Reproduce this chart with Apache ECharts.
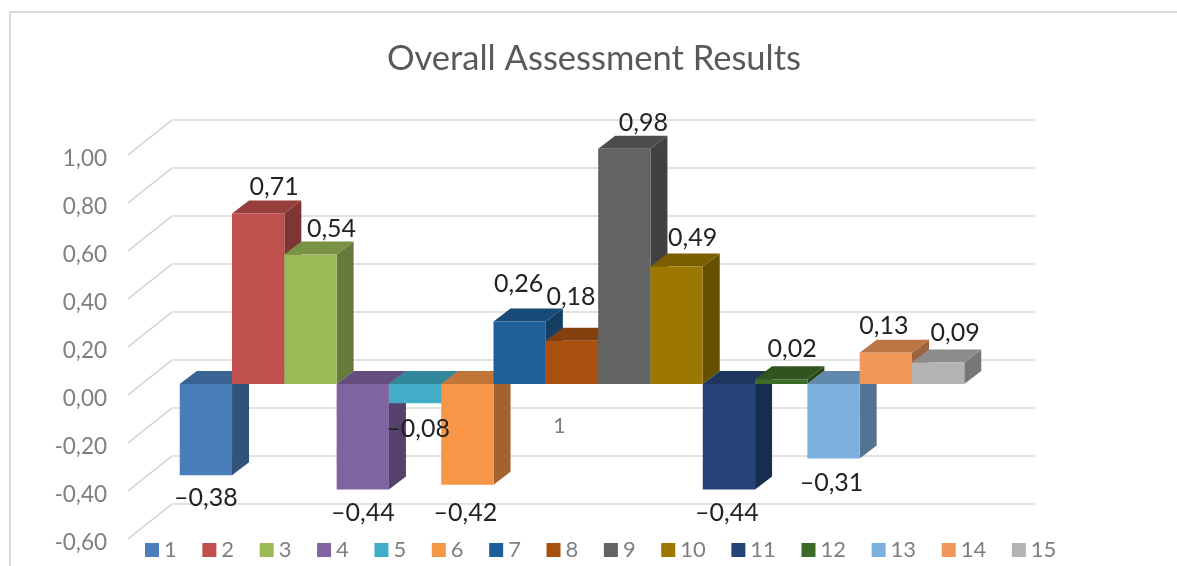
<!DOCTYPE html>
<html>
<head>
<meta charset="utf-8">
<style>html,body{margin:0;padding:0;background:#fff}#chart{width:1177px;height:566px}</style>
<script src="https://cdn.jsdelivr.net/npm/echarts@6/dist/echarts.min.js"></script>
</head>
<body>
<div id="chart"></div>
<script>
// Assessment scores, one series per item in a single category
const categories = ['1'];
const seriesNames = ['1','2','3','4','5','6','7','8','9','10','11','12','13','14','15'];
const scores = [-0.38,0.71,0.54,-0.44,-0.08,-0.42,0.26,0.18,0.98,0.49,-0.44,0.02,-0.31,0.13,0.09];
const yTicks = [-0.6,-0.4,-0.2,0,0.2,0.4,0.6,0.8,1];
const titleText = 'Overall Assessment Results';

const barColors = ['#4A7EBB','#C0504D','#9BBB59','#8064A2','#41ADC6','#F79646','#1F5F99','#A8510F','#636363','#9C7800','#264478','#3E6A28','#7CAFDE','#F1975A','#B4B4B4'];

// Oblique projection: depth of the walls and of the bars, in pixels
const WALL_DX = 44, WALL_DY = -35;
const BAR_SHIFT_X = 12.5, BAR_SHIFT_Y = -11;
const BAR_DX = 17, BAR_DY = -13;
// Hand placement of each value label relative to the bar's front face
const labelNudge = [[0,23],[16,-27],[21,-25],[0,23],[3,26],[-2,28],[-1,-38],[-1,-44],[19,-26],[16,-28],[-2,23],[11,-30],[-2,25],[-2,-27],[17,-29]];

const FONT = 'Lato, "Open Sans", sans-serif';
const GRID_TOP = 155, GRID_HEIGHT = 384;
// The category label sits under the zero line of the front plane
const ZERO_FROM_BOTTOM = GRID_HEIGHT * 0.6 / 1.6;

function shade(hex, f) {
  const n = parseInt(hex.slice(1), 16);
  const ch = s => Math.round(((n >> s) & 255) * f);
  return 'rgb(' + ch(16) + ',' + ch(8) + ',' + ch(0) + ')';
}
const comma = (v, d) => v.toFixed(d).replace('.', ',');

// Gridline: runs up the side wall from the front edge, then along the back wall
function renderWall(params, api) {
  const cs = params.coordSys;
  const y = api.coord([categories[0], api.value(1)])[1];
  return {
    type: 'polyline',
    silent: true,
    z2: 0,
    shape: { points: [[cs.x, y], [cs.x + WALL_DX, y + WALL_DY], [cs.x + WALL_DX + cs.width, y + WALL_DY]] },
    style: { fill: null, stroke: '#D9D9D9', lineWidth: 1.6 }
  };
}

// One extruded column: side and top faces behind the front face, value label on top
function renderBar(index) {
  return function (params, api) {
    const value = api.value(1);
    const band = api.size([1, 0])[0];
    const w = band / 16.5;
    const centre = api.coord([categories[0], 0]);
    const x0 = centre[0] + BAR_SHIFT_X + (index - 7.5) * w;
    const x1 = x0 + w;
    const yZero = centre[1] + BAR_SHIFT_Y;
    const yVal = api.coord([categories[0], value])[1] + BAR_SHIFT_Y;
    const yHigh = Math.min(yZero, yVal), yLow = Math.max(yZero, yVal);
    const color = barColors[index];
    const order = 10 + index * 3;
    const nudge = labelNudge[index];
    const text = (value < 0 ? '\u2013' : '') + comma(Math.abs(value), 2);
    return {
      type: 'group',
      children: [
        { type: 'polygon', z2: order,
          shape: { points: [[x1, yHigh], [x1 + BAR_DX, yHigh + BAR_DY], [x1 + BAR_DX, yLow + BAR_DY], [x1, yLow]] },
          style: { fill: shade(color, 0.66) } },
        { type: 'polygon', z2: order,
          shape: { points: [[x0, yHigh], [x0 + BAR_DX, yHigh + BAR_DY], [x1 + BAR_DX, yHigh + BAR_DY], [x1, yHigh]] },
          style: { fill: shade(color, 0.78) } },
        { type: 'rect', z2: order + 1,
          shape: { x: x0, y: yHigh, width: w, height: yLow - yHigh },
          style: { fill: color } },
        { type: 'text', z2: 200,
          x: x0 + w / 2 + nudge[0], y: yVal + nudge[1],
          style: { text: text, fill: '#222222', font: '25px ' + FONT, textAlign: 'center', textVerticalAlign: 'middle' } }
      ]
    };
  };
}

const barSeries = seriesNames.map((name, i) => ({
  name: name,
  type: 'custom',
  coordinateSystem: 'cartesian2d',
  clip: false,
  itemStyle: { color: barColors[i] },
  encode: { x: 0, y: 1 },
  data: [[categories[0], scores[i]]],
  renderItem: renderBar(i)
}));

const wallSeries = {
  name: 'gridlines',
  type: 'custom',
  coordinateSystem: 'cartesian2d',
  clip: false,
  silent: true,
  encode: { x: 0, y: 1 },
  data: yTicks.map(v => [categories[0], v]),
  renderItem: renderWall
};

const chart = echarts.init(document.getElementById('chart'));
chart.setOption({
  animation: false,
  backgroundColor: '#fff',
  color: barColors,
  title: {
    text: titleText,
    left: 589,
    top: 36,
    textAlign: 'center',
    textStyle: { color: '#595959', fontFamily: FONT, fontSize: 34.5, fontWeight: 'normal' }
  },
  legend: {
    data: seriesNames,
    left: 140,
    top: 534,
    itemWidth: 14,
    itemHeight: 14,
    itemGap: 25.6,
    icon: 'rect',
    textStyle: { color: '#7F7F7F', fontFamily: FONT, fontSize: 22 }
  },
  grid: { left: 128, top: GRID_TOP, width: 863, height: GRID_HEIGHT, outerBoundsMode: 'none' },
  xAxis: {
    type: 'category',
    data: categories,
    offset: -ZERO_FROM_BOTTOM,
    axisLine: { show: false, onZero: false },
    axisTick: { show: false },
    axisLabel: { color: '#7F7F7F', fontFamily: FONT, fontSize: 22, margin: 20 },
    splitLine: { show: false }
  },
  yAxis: {
    type: 'value',
    min: -0.6,
    max: 1,
    interval: 0.2,
    axisLine: { show: false },
    axisTick: { show: false },
    splitLine: { show: false },
    axisLabel: {
      color: '#7F7F7F',
      fontFamily: FONT,
      fontSize: 22.5,
      margin: 21,
      verticalAlign: 'top',
      lineHeight: 8,
      formatter: v => comma(v, 2)
    }
  },
  graphic: [{
    type: 'rect',
    silent: true,
    z: -1,
    shape: { x: 10, y: 12, width: 1300, height: 700 },
    style: { fill: 'none', stroke: '#DADADA', lineWidth: 2 }
  }],
  series: [wallSeries].concat(barSeries)
});
</script>
</body>
</html>
